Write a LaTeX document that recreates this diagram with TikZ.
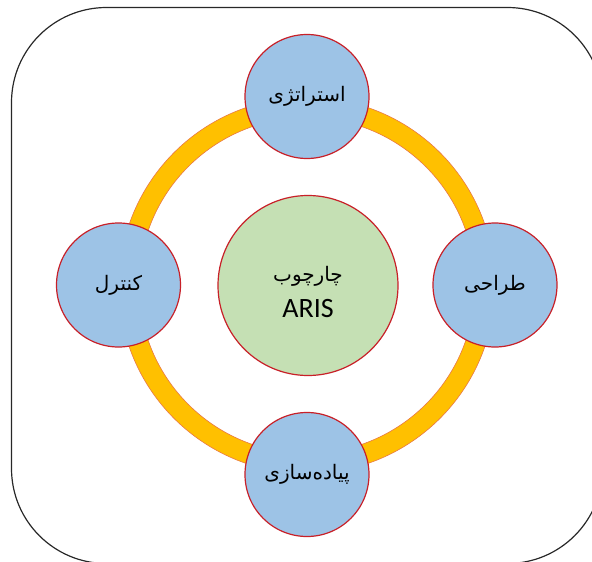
\documentclass[tikz,border=0pt]{standalone}
\usepackage{fontspec}
\setmainfont{Carlito}
\newfontfamily\farsi[Script=Arabic]{DejaVu Sans}
\TeXXeTstate=1
\definecolor{ringorange}{RGB}{255,192,0}
\definecolor{ringedge}{RGB}{232,120,70}
\definecolor{stepblue}{RGB}{157,195,230}
\definecolor{coregreen}{RGB}{197,224,180}
\definecolor{rimred}{RGB}{200,32,40}
\definecolor{framegray}{RGB}{40,40,40}
\newcommand{\fa}[1]{{\farsi\beginR #1\endR}}
\tikzset{
  phase/.style={circle, draw=rimred, line width=1.2pt, fill=stepblue,
    minimum size=124pt, inner sep=0pt, text=black,
    font=\fontsize{20}{24}\selectfont},
  core/.style={circle, draw=rimred, line width=1.2pt, fill=coregreen,
    minimum size=180pt, inner sep=0pt},
  coretext/.style={text=black, align=center, inner sep=0pt,
    font=\fontsize{28}{36}\selectfont},
  band/.style={draw=ringedge, line width=0.6pt, fill=ringorange, even odd rule},
  frame/.style={draw=framegray, line width=1.2pt, rounded corners=95pt}
}
\begin{document}
\begin{tikzpicture}[x=1pt,y=-1pt]
  \useasboundingbox (0,0) rectangle (592,562);
  \clip (0,0) rectangle (592,562);
  % outer rounded frame
  \draw[frame] (11.5,7.5) rectangle (602.5,563.5);
  % orange ring linking the four phases
  \coordinate (hub) at (307,285.5);
  \path[band] (hub) circle[radius=188pt] circle[radius=168pt];
  % centre and phases
  \node[core] (aris) at (308,285.5) {};
  \node[coretext] (arislabel) at (308,292)
    {{\fontsize{20}{36}\selectfont\fa{چارچوب}}\\ ARIS};
  \node[phase] (strategy) at (307,96.5) {\fa{استراتژی}};
  \node[phase] (design) at (495,285) {\fa{طراحی}};
  \node[phase] (build) at (307,474.5) {\fa{پیاده^^^^200cسازی}};
  \node[phase] (control) at (118.5,285) {\fa{کنترل}};
\end{tikzpicture}
\end{document}
